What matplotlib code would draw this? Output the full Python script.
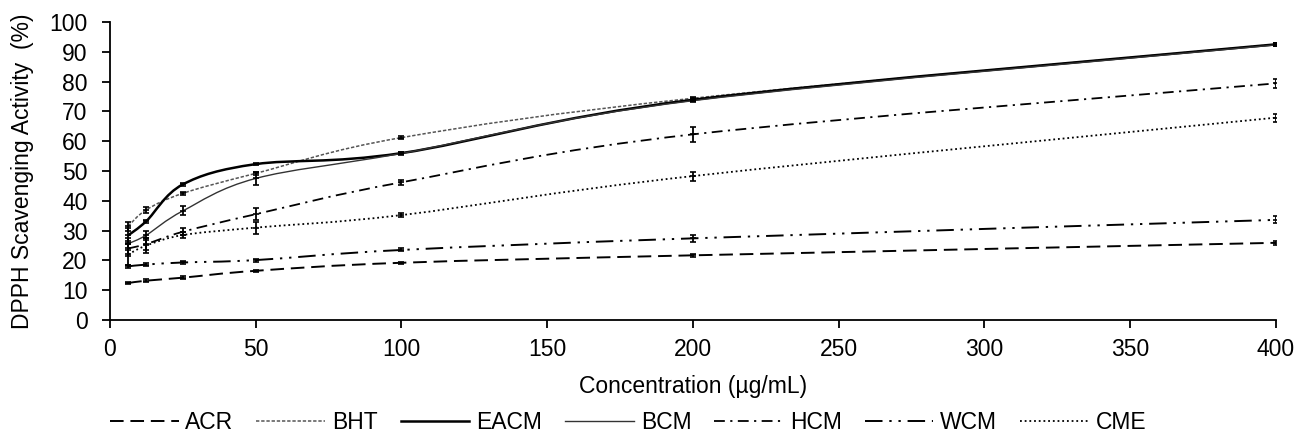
import matplotlib
matplotlib.use('Agg')
import matplotlib.pyplot as plt
from matplotlib.path import Path
from matplotlib.patches import PathPatch
from matplotlib.lines import Line2D
import numpy as np

plt.rcParams['font.family'] = ['Liberation Sans', 'DejaVu Sans']

# concentrations (ug/mL)
conc = [6.25, 12.5, 25, 50, 100, 200, 400]

# mean scavenging activity (%)
ACR = [12.4, 13.2, 14.2, 16.5, 19.2, 21.7, 25.9]
BHT = [31.5, 37.0, 42.5, 49.2, 61.2, 74.4, 92.5]
EACM = [28.4, 33.2, 45.5, 52.3, 56.0, 73.9, 92.5]
BCM = [25.6, 28.5, 36.6, 47.5, 55.9, 73.6, 92.3]
HCM = [24.0, 25.5, 29.6, 35.5, 46.2, 62.3, 79.4]
WCM = [18.0, 18.6, 19.3, 20.1, 23.5, 27.4, 33.6]
CME = [22.0, 25.0, 28.5, 31.0, 35.2, 48.3, 67.9]

# error bars (+/-)
ACR_err = [0.4, 0.4, 0.4, 0.4, 0.4, 0.4, 0.7]
BHT_err = [1.5, 1.0, 0.5, 0.5, 0.5, 0.5, 0.5]
EACM_err = [2.5, 0.5, 0.6, 0.4, 0.4, 0.4, 0.5]
BCM_err = [2.0, 1.5, 1.5, 2.2, 0.5, 0.5, 0.5]
HCM_err = [2.5, 2.0, 1.2, 2.0, 0.8, 2.6, 1.5]
WCM_err = [0.5, 0.5, 0.5, 0.5, 0.5, 1.2, 1.2]
CME_err = [3.5, 2.5, 1.0, 2.0, 0.6, 1.5, 1.3]

names = ['ACR', 'BHT', 'EACM', 'BCM', 'HCM', 'WCM', 'CME']
series = [ACR, BHT, EACM, BCM, HCM, WCM, CME]
errors = [ACR_err, BHT_err, EACM_err, BCM_err, HCM_err, WCM_err, CME_err]
styles = [
    dict(color='black', lw=1.4, ls=(0, (7, 3.5))),
    dict(color='#555555', lw=1.1, ls=(0, (2.2, 1.2))),
    dict(color='black', lw=1.8, ls='solid'),
    dict(color='#333333', lw=1.0, ls='solid'),
    dict(color='black', lw=1.3, ls=(0, (6, 3, 1.2, 3))),
    dict(color='black', lw=1.4, ls=(0, (9, 3.5, 1.2, 3.5, 1.2, 3.5))),
    dict(color='black', lw=1.3, ls=(0, (1, 1.6))),
]
FS = 16.5


def smooth_path(x, y):
    # Excel-like smoothed line: cubic bezier through the points
    pts = np.column_stack([x, y]).astype(float)
    n = len(pts)
    verts = [pts[0]]
    codes = [Path.MOVETO]
    for i in range(n - 1):
        p0 = pts[i - 1] if i > 0 else pts[i]
        p1 = pts[i]
        p2 = pts[i + 1]
        p3 = pts[i + 2] if i + 2 < n else pts[i + 1]
        c1 = p1 + (p2 - p0) / 6.0
        c2 = p2 - (p3 - p1) / 6.0
        verts += [c1, c2, p2]
        codes += [Path.CURVE4] * 3
    return Path(verts, codes)


fig = plt.figure(figsize=(12.95, 4.34), dpi=100)
ax = fig.add_axes([0.0849, 0.2627, 0.9004, 0.6866])

handles = []
for name, vals, err, st in zip(names, series, errors, styles):
    patch = PathPatch(smooth_path(conc, vals), fill=False, edgecolor=st['color'],
                      lw=st['lw'], linestyle=st['ls'], transform=ax.transData,
                      capstyle='butt')
    ax.add_patch(patch)
    ax.errorbar(conc, vals, yerr=err, fmt='_', color='black', ms=4, mew=1.2,
                ecolor='black', elinewidth=1.3, capsize=2, capthick=0.8)
    handles.append(Line2D([], [], color=st['color'], lw=st['lw'], linestyle=st['ls']))

ax.set_xlim(0, 400)
ax.set_ylim(0, 100)
ax.set_xticks(np.arange(0, 401, 50))
ax.set_yticks(np.arange(0, 101, 10))
ax.spines['top'].set_visible(False)
ax.spines['right'].set_visible(False)
ax.spines['left'].set_linewidth(1.3)
ax.spines['bottom'].set_linewidth(1.3)
ax.tick_params(direction='out', length=6, width=1.3, labelsize=FS)
ax.tick_params(axis='x', pad=7)
ax.tick_params(axis='y', pad=10)
ax.set_xlabel('Concentration (µg/mL)', fontsize=FS, labelpad=10)
ax.set_ylabel('DPPH Scavenging Activity  (%)', fontsize=FS, labelpad=11)

fig.legend(handles, names, loc='center', bbox_to_anchor=(0.485, 0.026), ncol=7,
           frameon=False, fontsize=FS, handlelength=3.0, handletextpad=0.3,
           columnspacing=1.0)

fig.savefig('out.png', dpi=100)
